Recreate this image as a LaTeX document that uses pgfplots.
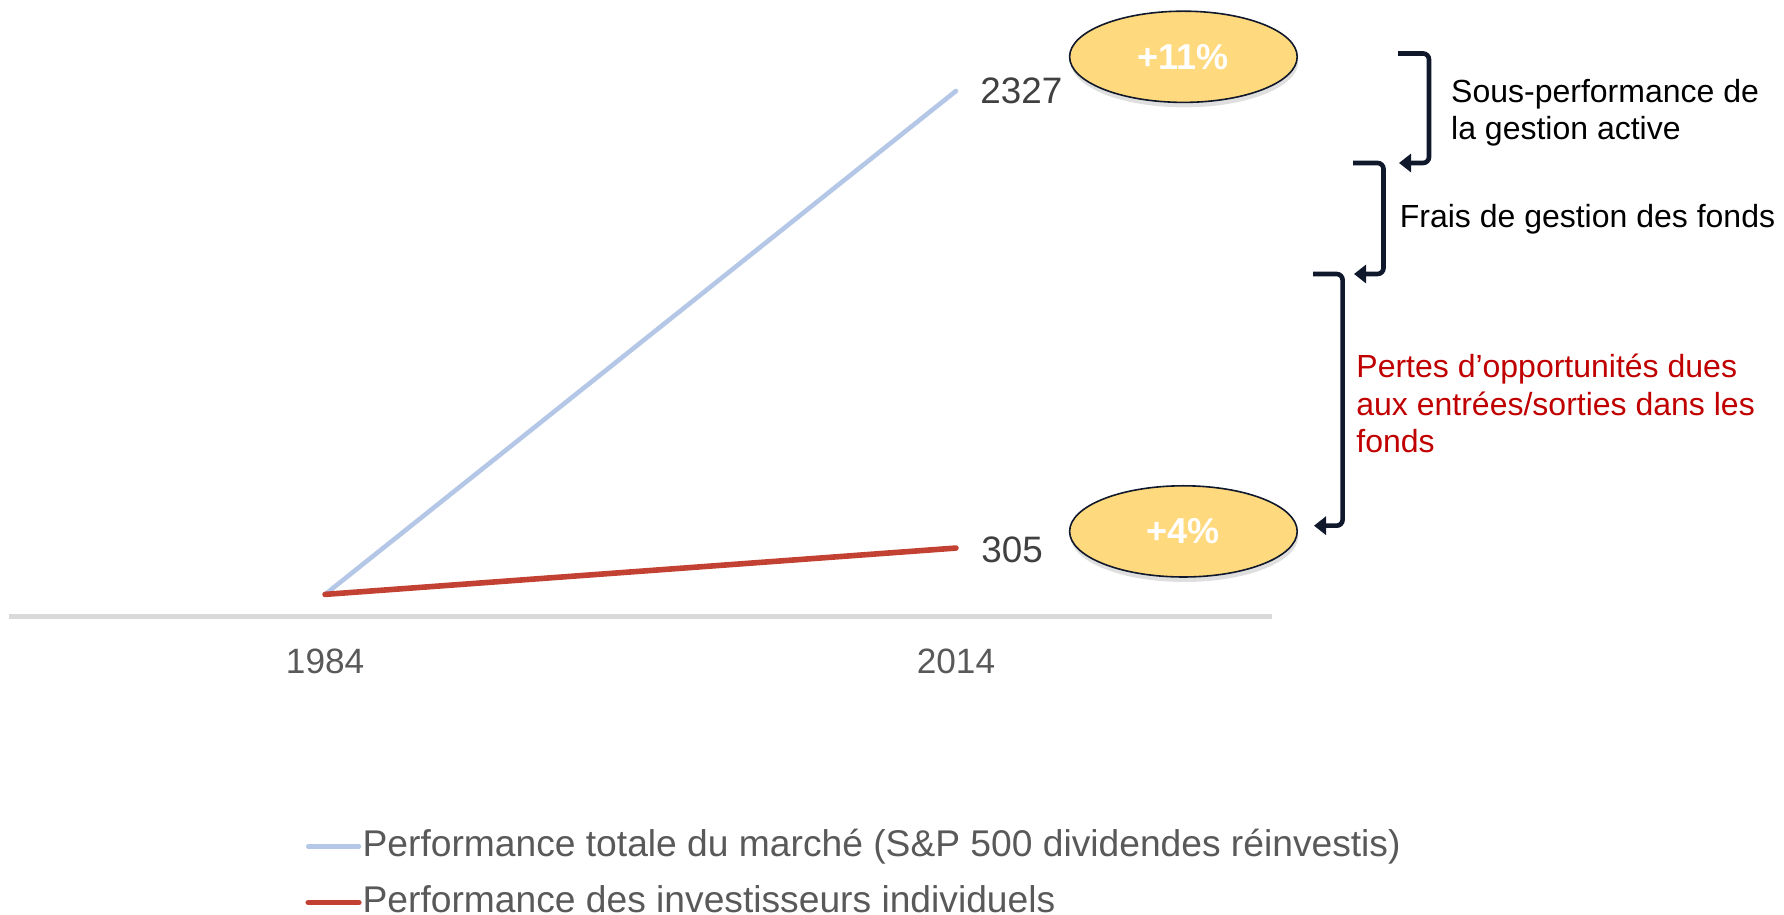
\documentclass[border=0pt]{standalone}
\usepackage{fontspec}
\setmainfont{Liberation Sans}
\usepackage{pgfplots}
\pgfplotsset{compat=1.18}
\usetikzlibrary{shadows,arrows.meta}
\definecolor{mktblue}{RGB}{180,199,231}
\definecolor{indred}{RGB}{194,65,50}
\definecolor{axgray}{RGB}{217,217,217}
\definecolor{txtgray}{RGB}{89,89,89}
\definecolor{valgray}{RGB}{64,64,64}
\definecolor{ellfill}{RGB}{255,217,125}
\definecolor{navy}{RGB}{16,24,44}
\definecolor{annred}{RGB}{192,0,0}
\begin{document}
\begin{tikzpicture}
\useasboundingbox (0,0) rectangle (892pt,457.5pt);
\begin{axis}[
  at={(4.5pt,149pt)}, anchor=south west,
  x=10.515pt, y=0.11302pt,
  xmin=1968.97, xmax=2029.03, ymin=0, ymax=2400,
  axis x line*=bottom, axis y line=none,
  x axis line style={draw=axgray, line width=2.5pt},
  xtick={1984,2014}, xticklabels={1984,2014}, ytick=\empty,
  major tick length=0pt,
  xticklabel style={font=\fontsize{17.6pt}{20pt}\selectfont, text=txtgray, anchor=base, yshift=-28.5pt, inner sep=0pt},
  clip=false,
  legend style={at={(0.2344,-0.4747)}, anchor=west, draw=none, fill=none, inner sep=0pt, row sep=9pt,
    font=\fontsize{18.6pt}{22pt}\selectfont, text=txtgray,
    nodes={inner sep=0.5pt, text height=14pt, text depth=4pt}},
  legend cell align=left,
  legend image code/.code={\draw[#1] (0pt,0pt) -- (25.3pt,0pt);},
]
\addplot[mktblue, line width=2.3pt, line cap=round] coordinates {(1984,100) (2014,2327)};
\addlegendentry{Performance totale du marché (S\&P 500 dividendes réinvestis)}
\addplot[indred, line width=2.8pt, line cap=round] coordinates {(1984,100) (2014,305)};
\addlegendentry{Performance des investisseurs individuels}
\node[anchor=base west, inner sep=0pt, text=valgray, font=\fontsize{18.4pt}{22pt}\selectfont, xshift=12pt, yshift=-6.3pt] at (axis cs:2014,2327) {2327};
\node[anchor=base west, inner sep=0pt, text=valgray, font=\fontsize{18.4pt}{22pt}\selectfont, xshift=12.5pt, yshift=-7pt] at (axis cs:2014,305) {305};
\end{axis}
% ellipses
\fill[ellfill, draw=navy, line width=0.8pt, drop shadow={shadow xshift=0.5pt, shadow yshift=-2.5pt, opacity=0.25}] (591.7pt,429.1pt) ellipse [x radius=56.9pt, y radius=22.8pt];
\node[text=white, font=\fontsize{18pt}{21pt}\selectfont\bfseries] at (591.7pt,429.1pt) {+11\%};
\fill[ellfill, draw=navy, line width=0.8pt, drop shadow={shadow xshift=0.5pt, shadow yshift=-2.5pt, opacity=0.25}] (591.7pt,191.8pt) ellipse [x radius=56.9pt, y radius=22.8pt];
\node[text=white, font=\fontsize{18pt}{21pt}\selectfont\bfseries] at (591.7pt,191.8pt) {+4\%};
% brackets
\tikzset{brk/.style={draw=navy, line width=2.3pt, rounded corners=3pt, -{Triangle[length=6pt,width=9pt]}}}
\draw[brk] (699pt,430.75pt) -- (714.5pt,430.75pt) -- (714.5pt,376pt) -- (699.5pt,376pt);
\draw[brk] (676.5pt,376pt) -- (691.75pt,376pt) -- (691.75pt,320.5pt) -- (677pt,320.5pt);
\draw[brk] (656.5pt,320.5pt) -- (671.3pt,320.5pt) -- (671.3pt,194.65pt) -- (657pt,194.65pt);
% annotation texts
\begin{scope}[every node/.style={anchor=base west, inner sep=0pt, font=\fontsize{16pt}{19pt}\selectfont}]
\node at (725.4pt,406.3pt) {Sous-performance de};
\node at (725.4pt,387.5pt) {la gestion active};
\node at (699.7pt,343.7pt) {Frais de gestion des fonds};
\node[text=annred] at (678pt,268.6pt) {Pertes d’opportunités dues};
\node[text=annred] at (678pt,249.8pt) {aux entrées/sorties dans les};
\node[text=annred] at (678pt,231.1pt) {fonds};
\end{scope}
\end{tikzpicture}
\end{document}
